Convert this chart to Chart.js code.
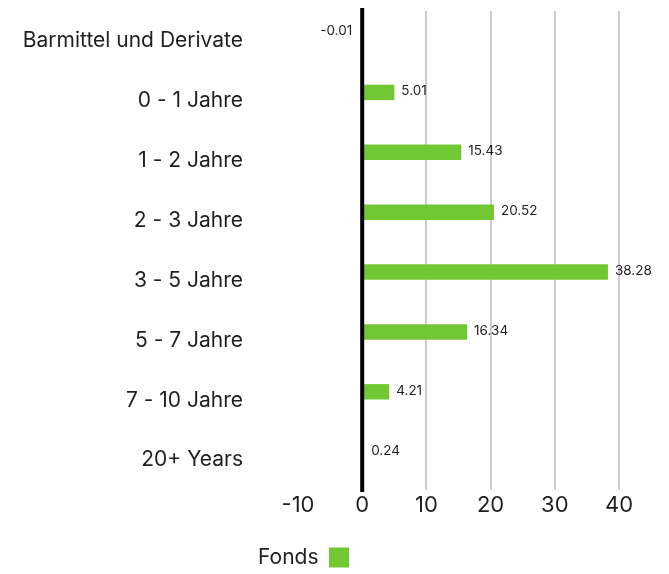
<!DOCTYPE html>
<html>
<head>
<meta charset="utf-8">
<script src="https://cdn.jsdelivr.net/npm/chart.js@4.4.1/dist/chart.umd.min.js"></script>
<style>
  html, body { margin: 0; padding: 0; background: #fff; }
  #wrap { width: 669px; height: 574px; position: relative; }
  canvas { display: block; }
</style>
</head>
<body>
<div id="wrap"><canvas id="c" width="669" height="574" style="width:669px;height:574px"></canvas></div>
<script>
// ---- data ----
const categories = ["Barmittel und Derivate", "0 - 1 Jahre", "1 - 2 Jahre", "2 - 3 Jahre", "3 - 5 Jahre", "5 - 7 Jahre", "7 - 10 Jahre", "20+ Years"];
const fondsValues = [-0.01, 5.01, 15.43, 20.52, 38.28, 16.34, 4.21, 0.24];
const xMin = -10;
const xMax = 40;
const xStep = 10;
const seriesName = "Fonds";

// ---- styles ----
const FONT = "Inter";
const GREEN = "#72c832";
const TEXT = "#1f1f1f";

const valueLabels = {
  id: "valueLabels",
  afterDatasetsDraw(chart) {
    const ctx = chart.ctx;
    const xs = chart.scales.x;
    const area = chart.chartArea;
    const x0 = xs.getPixelForValue(0);
    ctx.save();
    ctx.strokeStyle = "#000";
    ctx.lineWidth = 4;
    ctx.beginPath();
    ctx.moveTo(x0, area.top - 3);
    ctx.lineTo(x0, area.bottom + 2);
    ctx.stroke();
    const meta = chart.getDatasetMeta(0);
    ctx.font = "13.5px " + FONT;
    ctx.fillStyle = TEXT;
    ctx.textBaseline = "middle";
    meta.data.forEach((el, i) => {
      const v = fondsValues[i];
      const txt = v.toFixed(2);
      if (v < 0) {
        ctx.textAlign = "right";
        ctx.fillText(txt, el.x - 10, el.y - 2);
      } else {
        ctx.textAlign = "left";
        ctx.fillText(txt, Math.max(el.x, x0 + 2) + 7, el.y - 1);
      }
    });
    ctx.restore();
  }
};

const legendShift = {
  id: "legendShift",
  afterLayout(chart) {
    const lg = chart.legend;
    if (!lg) return;
    lg.left -= 6; lg.right -= 6;
    lg.top += 4; lg.bottom += 4;
  }
};

new Chart(document.getElementById("c"), {
  type: "bar",
  data: {
    labels: categories,
    datasets: [
      {
        label: seriesName,
        data: fondsValues,
        backgroundColor: GREEN,
        borderWidth: 0,
        categoryPercentage: 0.56,
        barPercentage: 0.92
      },
      {
        label: "",
        data: [],
        backgroundColor: "transparent",
        borderWidth: 0,
        categoryPercentage: 0.56,
        barPercentage: 0.92
      }
    ]
  },
  options: {
    indexAxis: "y",
    responsive: false,
    maintainAspectRatio: false,
    animation: false,
    devicePixelRatio: 1,
    layout: { padding: { top: 11, right: 50, left: 0, bottom: 0 } },
    scales: {
      x: {
        min: xMin,
        max: xMax,
        afterFit: (scale) => { scale.height = 43; },
        grid: {
          drawTicks: false,
          color: (c) => (c.tick && c.tick.value === xMin) ? "rgba(0,0,0,0)" : "#cccccc",
          lineWidth: 2
        },
        border: { display: false },
        ticks: {
          stepSize: xStep,
          maxRotation: 0,
          minRotation: 0,
          padding: 2,
          font: { family: FONT, size: 22 },
          color: TEXT
        }
      },
      y: {
        afterFit: (scale) => {
          scale.width = 298;
          scale.paddingTop = 0;
          scale.paddingBottom = 0;
        },
        grid: { display: false, drawTicks: false },
        border: { display: false },
        ticks: {
          padding: 55,
          font: { family: FONT, size: 21 },
          color: TEXT
        }
      }
    },
    plugins: {
      tooltip: { enabled: false },
      legend: {
        position: "bottom",
        rtl: true,
        labels: {
          font: { family: FONT, size: 21 },
          color: TEXT,
          boxWidth: 20,
          boxHeight: 20,
          padding: 10,
          filter: (item) => item.datasetIndex === 0
        }
      }
    }
  },
  plugins: [valueLabels, legendShift]
});
</script>
</body>
</html>
